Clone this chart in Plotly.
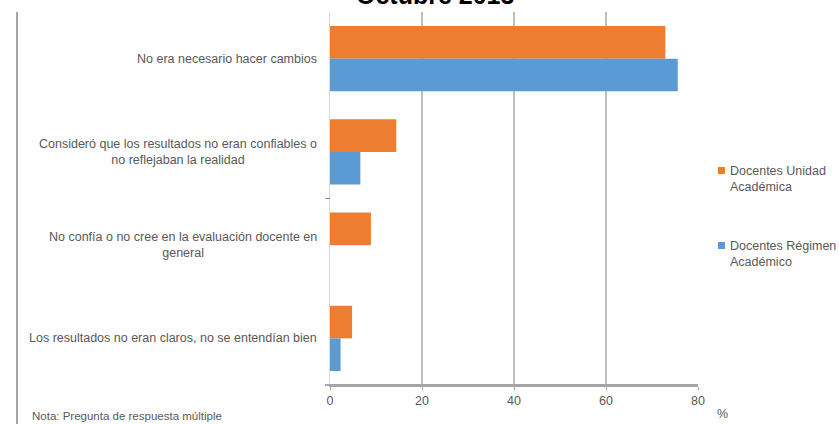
import plotly.graph_objects as go

# Reasons given by teachers (one row per category), values in %
categorias = [
    "No era necesario hacer cambios",
    "Consideró que los resultados no eran confiables o<br>no reflejaban la realidad",
    "No confía o no cree en la evaluación docente en<br>general",
    "Los resultados no eran claros, no se entendían bien",
]
serie_unidad = [72.9, 14.4, 8.9, 4.8]     # Docentes Unidad Académica
serie_regimen = [75.6, 6.6, 0.0, 2.3]     # Docentes Régimen Académico
nombres_series = ["Docentes Unidad<br>Académica", "Docentes Régimen<br>Académico"]
colores = ["#ED7D31", "#5B9BD5"]
ticks_x = [0, 20, 40, 60, 80]

W, H = 839, 424
ML, MR, MT, MB = 330, 141, 12, 39
PW, PH = W - ML - MR, H - MT - MB


def px_x(p):
    return (p - ML) / PW


def px_y(p):
    return (H - MB - p) / PH


FONT = "Liberation Sans"
GRIS = "#595959"

fig = go.Figure()
for nombre, valores, color in zip(nombres_series, [serie_unidad, serie_regimen], colores):
    fig.add_trace(go.Bar(
        y=categorias, x=valores, orientation="h", name=nombre,
        marker=dict(color=color, line=dict(width=0)), showlegend=False,
    ))

annotations = []
# category labels, centred lines, right-aligned block
for c in categorias:
    annotations.append(dict(
        x=0, xref="paper", y=c, yref="y", text=c, showarrow=False,
        xanchor="right", yanchor="middle", align="center", xshift=-11,
        font=dict(family=FONT, size=12.5, color=GRIS),
    ))

# legend block
leyenda_y = [171, 246]
for nombre, color, yl in zip(nombres_series, colores, leyenda_y):
    annotations.append(dict(
        x=px_x(728), xref="paper", y=px_y(yl - 9), yref="paper", text=nombre,
        showarrow=False, xanchor="left", yanchor="top", align="left",
        font=dict(family=FONT, size=12.5, color=GRIS),
    ))

# title (second line only partly inside the page)
annotations.append(dict(
    x=px_x(435), xref="paper", y=px_y(11), yref="paper", text="<b>Octubre 2013</b>",
    showarrow=False, xanchor="center", yanchor="bottom",
    font=dict(family=FONT, size=25, color="#000000"),
))
# unit label
annotations.append(dict(
    x=px_x(722), xref="paper", y=px_y(414), yref="paper", text="%",
    showarrow=False, xanchor="center", yanchor="middle",
    font=dict(family=FONT, size=12.5, color=GRIS),
))
# note
annotations.append(dict(
    x=px_x(30), xref="paper", y=px_y(416), yref="paper",
    text="Nota: Pregunta de respuesta múltiple",
    showarrow=False, xanchor="left", yanchor="middle",
    font=dict(family=FONT, size=11.5, color=GRIS),
))

shapes = [
    # frame line on the left
    dict(type="line", xref="paper", yref="paper", x0=px_x(17), x1=px_x(17),
         y0=px_y(12), y1=px_y(430), line=dict(color="#a6a6a6", width=2)),
    # x axis line slightly extended to the left of zero
    dict(type="line", xref="paper", yref="paper", x0=px_x(325), x1=1,
         y0=0, y1=0, line=dict(color="#a6a6a6", width=2)),
    # boundary tick between the second and third categories
    dict(type="line", xref="paper", yref="y", x0=px_x(325), x1=0,
         y0=1.5, y1=1.5, line=dict(color="#8c8c8c", width=1)),
]
for color, yl in zip(colores, leyenda_y):
    shapes.append(dict(
        type="rect", xref="paper", yref="paper",
        x0=px_x(718), x1=px_x(725), y0=px_y(yl - 4), y1=px_y(yl + 3),
        fillcolor=color, line=dict(width=0),
    ))

fig.update_layout(
    width=W, height=H,
    margin=dict(l=ML, r=MR, t=MT, b=MB),
    paper_bgcolor="white", plot_bgcolor="white",
    barmode="group", bargap=0.3, bargroupgap=0,
    annotations=annotations, shapes=shapes,
    font=dict(family=FONT, color=GRIS),
    xaxis=dict(
        range=[0, 80], tickvals=ticks_x, showgrid=True, gridcolor="#bdbdbd", gridwidth=1.5,
        zeroline=False, showline=True, linecolor="#a6a6a6", linewidth=2,
        ticks="outside", ticklen=3, tickcolor="#a6a6a6",
        tickfont=dict(family=FONT, size=12.5, color=GRIS),
    ),
    yaxis=dict(
        autorange="reversed", showticklabels=False, showgrid=False,
        showline=True, linecolor="#d9d9d9", linewidth=1, ticks="",
    ),
)

fig.write_html("out.html")
